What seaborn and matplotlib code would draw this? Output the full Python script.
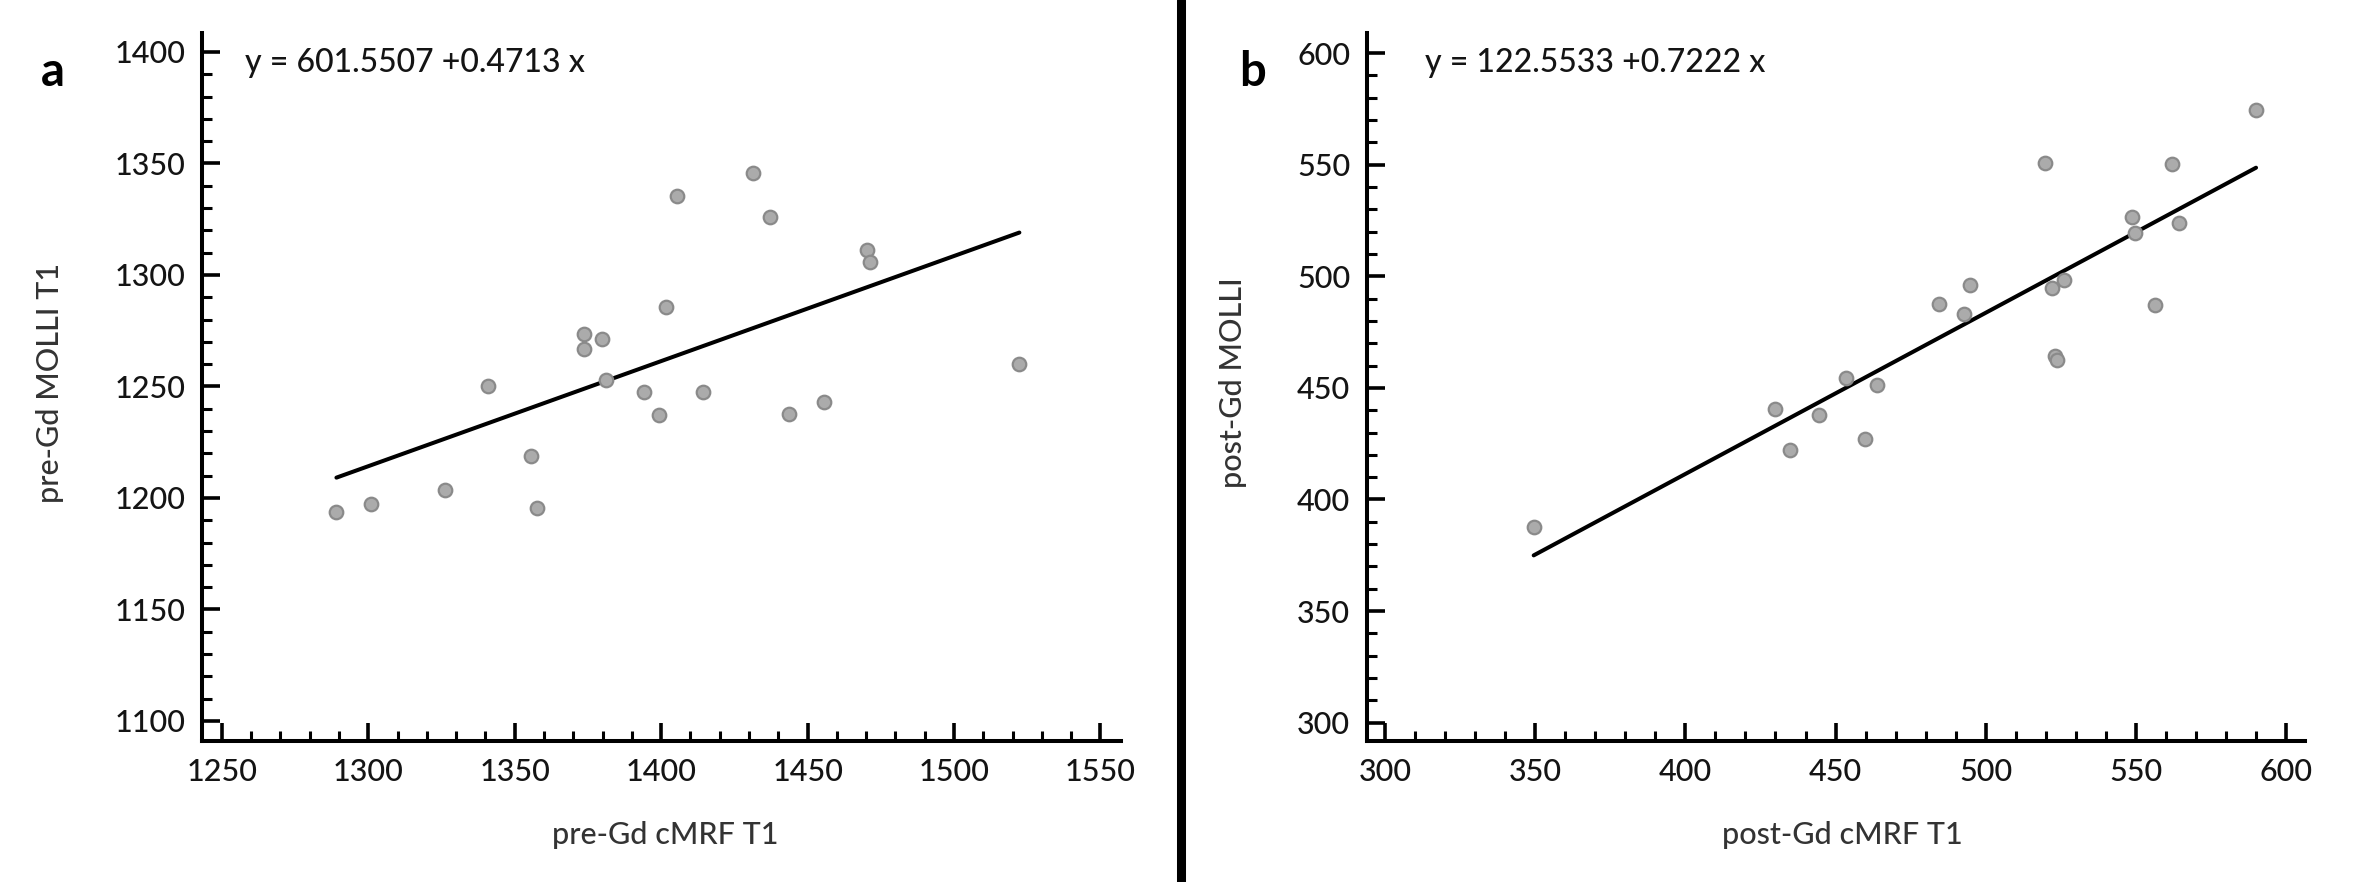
import numpy as np
import pandas as pd
import matplotlib
matplotlib.use("Agg")
import matplotlib.pyplot as plt
from matplotlib.ticker import MultipleLocator
from matplotlib.lines import Line2D
import seaborn as sns

# ---------------- data ----------------
pre_cmrf = [1289.1, 1300.9, 1326.1, 1340.7, 1355.6, 1357.7, 1373.7, 1373.7,
            1379.8, 1381.1, 1394.0, 1399.4, 1401.7, 1405.3, 1414.3, 1431.2,
            1437.1, 1443.8, 1455.7, 1470.1, 1471.4, 1522.3]
pre_molli = [1193.8, 1197.1, 1203.6, 1250.3, 1218.8, 1195.6, 1273.5, 1266.6,
             1271.4, 1253.0, 1247.7, 1237.2, 1285.8, 1335.2, 1247.5, 1345.6,
             1325.9, 1237.7, 1243.2, 1311.0, 1305.7, 1260.1]
pre_intercept, pre_slope = 601.5507, 0.4713

post_cmrf = [349.5, 430.0, 435.0, 444.6, 453.4, 459.7, 463.7, 484.5, 492.8,
             494.6, 519.7, 522.2, 526.0, 523.0, 523.7, 548.8, 549.6, 556.3,
             562.1, 564.4, 590.0]
post_molli = [387.8, 440.7, 422.3, 437.7, 454.6, 427.3, 451.5, 487.8, 483.0,
              495.9, 550.8, 494.6, 498.4, 464.1, 462.6, 526.4, 519.3, 487.1,
              550.3, 523.9, 574.5]
post_intercept, post_slope = 122.5533, 0.7222

pre_xlabel, pre_ylabel = "pre-Gd cMRF T1", "pre-Gd MOLLI T1"
post_xlabel, post_ylabel = "post-Gd cMRF T1", "post-Gd MOLLI"
pre_eq = "y = 601.5507 +0.4713 x"
post_eq = "y = 122.5533 +0.7222 x"
panel_letters = ["a", "b"]

# ---------------- style ----------------
sns.set_style("white")
plt.rcParams["font.family"] = ["Lato", "DejaVu Sans"]
plt.rcParams["font.weight"] = "medium"

W, H = 2362, 882
fig = plt.figure(figsize=(W / 100, H / 100), dpi=100)
fig.patch.set_facecolor("white")

def fx(px):
    return px / W

def fy(py):
    return 1 - py / H

TICK_COL = "#141414"
LAB_COL = "#333333"

def make_panel(left_px, right_px, xs, ys, b0, b1, xlim, ylim):
    top_px, bot_px = 33, 741
    ax = fig.add_axes([fx(left_px), fy(bot_px), fx(right_px - left_px),
                       (bot_px - top_px) / H])
    df = pd.DataFrame({"x": xs, "y": ys})
    xe = np.array([min(xs), max(xs)])
    line_df = pd.DataFrame({"x": xe, "y": b0 + b1 * xe})
    sns.lineplot(data=line_df, x="x", y="y", ax=ax, color="black", lw=2.9,
                 zorder=3)
    sns.scatterplot(data=df, x="x", y="y", ax=ax, s=95, color="#ababab",
                    edgecolor="#8a8a8a", linewidth=1.6, zorder=4)
    ax.set_xlim(*xlim)
    ax.set_ylim(*ylim)
    ax.xaxis.set_major_locator(MultipleLocator(50))
    ax.yaxis.set_major_locator(MultipleLocator(50))
    ax.xaxis.set_minor_locator(MultipleLocator(10))
    ax.yaxis.set_minor_locator(MultipleLocator(10))
    for s in ["top", "right"]:
        ax.spines[s].set_visible(False)
    for s in ["left", "bottom"]:
        ax.spines[s].set_linewidth(2.9)
        ax.spines[s].set_color("black")
    ax.tick_params(which="both", bottom=True, left=True, top=False,
                   right=False)
    ax.tick_params(which="major", direction="in", length=13, width=2.6,
                   color="black", labelsize=22, labelcolor=TICK_COL, pad=12)
    ax.tick_params(which="minor", direction="in", length=7, width=2.2,
                   color="black")
    ax.set_xlabel("")
    ax.set_ylabel("")
    ax.set_facecolor("white")
    return ax

ax1 = make_panel(202, 1121, pre_cmrf, pre_molli, pre_intercept, pre_slope,
                 (1243.2, 1557.0), (1091.0, 1408.5))
ax2 = make_panel(1367, 2305, post_cmrf, post_molli, post_intercept, post_slope,
                 (294.0, 606.3), (291.8, 609.0))

# axis titles
fig.text(fx(665), fy(835), pre_xlabel, ha="center", va="center",
         fontsize=22, color=LAB_COL)
fig.text(fx(50), fy(383), pre_ylabel, ha="center", va="center",
         rotation=90, fontsize=22, color=LAB_COL)
fig.text(fx(1842), fy(835), post_xlabel, ha="center", va="center",
         fontsize=22, color=LAB_COL)
fig.text(fx(1233), fy(383), post_ylabel, ha="center", va="center",
         rotation=90, fontsize=22, color=LAB_COL)

# equations
fig.text(fx(245), fy(72), pre_eq, ha="left", va="baseline", fontsize=23,
         color=TICK_COL)
fig.text(fx(1425), fy(72), post_eq, ha="left", va="baseline", fontsize=23,
         color=TICK_COL)

# panel letters
fig.text(fx(53), fy(86), panel_letters[0], ha="center", va="baseline",
         fontsize=34, fontweight="bold", color="black")
fig.text(fx(1252), fy(86), panel_letters[1], ha="center", va="baseline",
         fontsize=34, fontweight="bold", color="black")

# divider
fig.add_artist(Line2D([fx(1181), fx(1181)], [0, 1], color="black", lw=6.5,
                      transform=fig.transFigure))

fig.savefig("out.png", dpi=100, facecolor="white")
